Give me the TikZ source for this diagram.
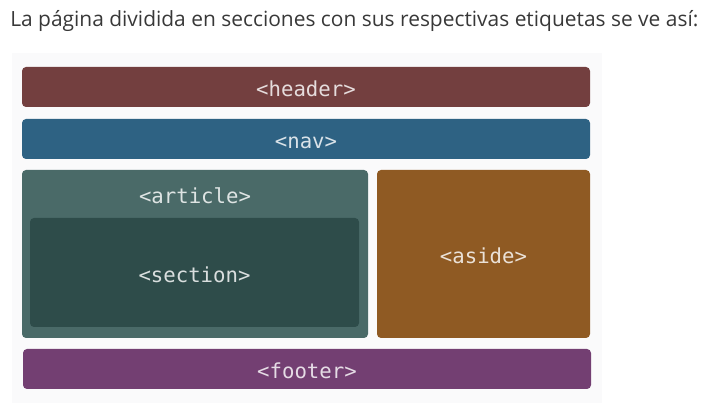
\documentclass[tikz,border=0pt]{standalone}
\usepackage{fontspec}
\setmainfont{Open Sans}
\setmonofont{DejaVu Sans Mono}
\definecolor{headercol}{HTML}{733F3F}
\definecolor{navcol}{HTML}{2E6283}
\definecolor{articlecol}{HTML}{4A6A68}
\definecolor{sectioncol}{HTML}{2E4C4A}
\definecolor{asidecol}{HTML}{8F5A23}
\definecolor{footercol}{HTML}{733F72}
\definecolor{panelcol}{HTML}{FAFAFB}
\definecolor{titlecol}{HTML}{383838}
\tikzset{
  block/.style={rectangle, rounded corners=3pt, inner sep=0pt, draw=none,
    text=white, text opacity=0.82, text height=15pt, text depth=0pt,
    font=\ttfamily\fontsize{15.5}{17}\selectfont},
  wide/.style={block, minimum width=426pt, minimum height=30pt},
  tall/.style={block, minimum height=126pt}
}
\begin{document}
\begin{tikzpicture}[x=0.75pt, y=-0.75pt]
  \useasboundingbox (0,0) rectangle (719,413);
  \fill[panelcol] (12,53) rectangle (602,403);

  \node (title) [anchor=base west, text=titlecol, font=\fontsize{15.7}{18}\selectfont, inner sep=0pt]
    at (10,27) {La página dividida en secciones con sus respectivas etiquetas se ve así:};

  \node (header) [wide, fill=headercol] at (306,87) {<header>};
  \node (nav) [wide, fill=navcol] at (306,139) {<nav>};
  \node (article) [tall, fill=articlecol, minimum width=259.5pt] at (195,254) {};
  \node (articlelabel) [block, fill=none] at (195,194) {<article>};
  \node (section) [block, fill=sectioncol, minimum width=246.75pt, minimum height=81.75pt]
    at (194.5,272.5) {<section>};
  \node (aside) [tall, fill=asidecol, minimum width=159.75pt] at (483.5,254) {<aside>};
  \node (footer) [wide, fill=footercol] at (307,369) {<footer>};
\end{tikzpicture}
\end{document}
